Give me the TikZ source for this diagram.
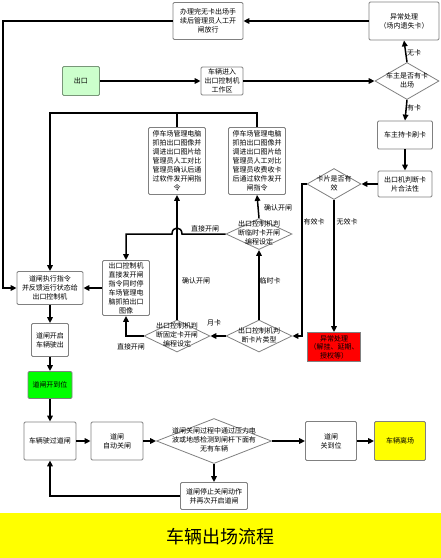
\documentclass[tikz,border=0pt]{standalone}
\usepackage{fontspec}
\setmainfont{Noto Sans CJK SC}
\usetikzlibrary{arrows.meta,shapes.geometric}
\definecolor{boxgray}{RGB}{128,128,128}
\definecolor{exitg}{RGB}{204,255,204}
\definecolor{exitb}{RGB}{120,150,120}
\definecolor{brightg}{RGB}{0,255,0}
\definecolor{yel}{RGB}{255,255,0}
\definecolor{redfill}{RGB}{255,0,0}
\newcommand\dt[1]{\raisebox{-0.25em}[0pt][0pt]{\makebox[0pt]{\begin{tabular}{@{}c@{}}#1\end{tabular}}}}
\tikzset{
  box/.style={rectangle, draw=boxgray, line width=0.8pt, rounded corners=1.2pt, fill=white,
    inner sep=0pt, align=center, font=\fontsize{7}{9}\selectfont},
  dia/.style={diamond, draw=boxgray, line width=0.8pt, fill=white, inner sep=0pt,
    font=\fontsize{7}{9}\selectfont},
  conn/.style={line width=1.5pt, black},
  arr/.style={conn, -{Triangle[length=6pt,width=5.5pt]}},
  lbl/.style={inner sep=0pt, font=\fontsize{7}{9}\selectfont}
}
\begin{document}
\begin{tikzpicture}[x=1pt,y=-1pt]
\useasboundingbox (0,0) rectangle (441,558);
% banner
\node[fill=yel, minimum width=441pt, minimum height=45pt, inner sep=0pt, anchor=north west] (banner) at (0,513) {};
\node[font=\fontsize{18}{20}\selectfont, inner sep=0pt] (title) at (220,537) {车辆出场流程};
% nodes
\node[box, minimum width=70pt, minimum height=37pt] (top) at (208,21) {办理完无卡出场手\\续后管理员人工开\\闸放行};
\node[box, minimum width=70pt, minimum height=38pt] (lost) at (404,21) {异常处理\\（场内遗失卡）};
\node[box, fill=exitg, draw=exitb, minimum width=37pt, minimum height=29pt] (exit) at (81,81) {出口};
\node[box, minimum width=42pt, minimum height=28pt] (enter) at (222,81) {车辆进入\\出口控制机\\工作区};
\node[dia, minimum width=64pt, minimum height=37pt] (hascard) at (407,81) {\dt{车主是否有卡\\出场}};
\node[box, minimum width=55pt, minimum height=28pt] (swipe) at (405,135) {车主持卡刷卡};
\node[box, minimum width=54pt, minimum height=26pt] (judge) at (405,184) {出口机判断卡\\片合法性};
\node[dia, minimum width=54pt, minimum height=31pt] (valid) at (334,184) {\dt{卡片是否有\\效}};
\node[box, fill=redfill, rounded corners=0pt, minimum width=53pt, minimum height=29pt, font=\fontsize{7}{8.5}\selectfont] (bad) at (334,347) {异常处理\\（解挂、延期、\\授权等）};
\node[dia, minimum width=66pt, minimum height=32pt] (type) at (259,336) {\dt{出口控制机判\\断卡片类型}};
\node[dia, minimum width=66pt, minimum height=31pt] (tmp) at (259,234) {\dt{出口控制机判\\断临时卡开闸\\编程设定}};
\node[box, minimum width=57pt, minimum height=67pt] (pcR) at (257,161) {停车场管理电脑\\抓拍出口图像并\\调进出口图片给\\管理员人工对比\\管理员收费收卡\\后通过软件发开\\闸指令};
\node[box, minimum width=57pt, minimum height=67pt] (pcL) at (177,161) {停车场管理电脑\\抓拍出口图像并\\调进出口图片给\\管理员人工对比\\管理员确认后通\\过软件发开闸指\\令};
\node[dia, minimum width=66pt, minimum height=32pt] (fix) at (177,336) {\dt{出口控制机判\\断固定卡开闸\\编程设定}};
\node[box, minimum width=47pt, minimum height=55pt] (direct) at (126,288) {出口控制机\\直接发开闸\\指令同时停\\车场管理电\\脑抓拍出口\\图像};
\node[box, minimum width=66pt, minimum height=33pt] (exec) at (50,288) {道闸执行指令\\并反馈运行状态给\\出口控制机};
\node[box, minimum width=37pt, minimum height=33pt] (open) at (50,340) {道闸开启\\车辆驶出};
\node[box, fill=brightg, minimum width=44pt, minimum height=27pt] (opened) at (50,385) {道闸开到位};
\node[box, minimum width=52pt, minimum height=38pt] (pass) at (50,441) {车辆驶过道闸};
\node[box, minimum width=52pt, minimum height=38pt] (auto) at (117,441) {道闸\\自动关闸};
\node[dia, minimum width=115pt, minimum height=45pt] (detect) at (214,441) {\dt{道闸关闸过程中通过压力电\\波或地感检测到闸杆下面有\\无有车辆}};
\node[box, minimum width=51pt, minimum height=39pt] (closed) at (331,441) {道闸\\关到位};
\node[box, fill=yel, minimum width=51pt, minimum height=39pt] (leave) at (400,441) {车辆离场};
\node[box, minimum width=67pt, minimum height=27pt] (reopen) at (214,496) {道闸停止关闸动作\\并再次开启道闸};
% helper coordinates
\coordinate (leftrail) at (3,0);
\coordinate (topbus) at (50,113);
\coordinate (validrail) at (302,0);
\coordinate (hopR) at (182,234);
\coordinate (hopL) at (172,234);
% connectors
\draw[arr] (lost.west) -- (top.east);
\draw[arr] (top.west) -- (top.west -| leftrail) -- (leftrail |- exec.west) -- (exec.west);
\draw[arr] (exit.east) -- (enter.west);
\draw[arr] (enter.east) -- (hascard.west);
\draw[arr] (hascard.north) -- (lost.south);
\draw[arr] (hascard.south) -- (swipe.north);
\draw[arr] (swipe.south) -- (judge.north);
\draw[arr] (judge.west) -- (valid.east);
\draw[arr] (valid.west) -- (valid.west -| validrail) -- (validrail |- type.east) -- (type.east);
\draw[arr] (valid.south) -- (bad.north);
\draw[arr] (type.north) -- (tmp.south);
\draw[arr] (tmp.north) -- (pcR.south);
\draw[arr] (tmp.west) -- (hopR) .. controls (182,226) and (172,226) .. (hopL) -- (direct.north |- tmp.west) -- (direct.north);
\draw[arr] (type.west) -- (fix.east);
\draw[arr] (fix.north) -- (pcL.south);
\draw[arr] (fix.west) -- (fix.west -| direct.south) -- (direct.south);
\draw[arr] (direct.west) -- (exec.east);
\draw[conn] (pcL.north) -- (pcL.north |- topbus);
\draw[arr] (pcR.north) |- (topbus) -- (exec.north);
\draw[arr] (exec.south) -- (open.north);
\draw[arr] (open.south) -- (opened.north);
\draw[arr] (opened.south) -- (pass.north);
\draw[arr] (pass.east) -- (auto.west);
\draw[arr] (auto.east) -- (detect.west);
\draw[arr] (detect.east) -- (closed.west);
\draw[arr] (closed.east) -- (leave.west);
\draw[arr] (detect.south) -- (reopen.north);
\draw[arr] (reopen.west) -| (pass.south);
% labels
\node[lbl] (l1) at (414,53) {无卡};
\node[lbl] (l2) at (414,108) {有卡};
\node[lbl] (l3) at (314,222) {有效卡};
\node[lbl] (l4) at (347,222) {无效卡};
\node[lbl] (l5) at (270,281) {临时卡};
\node[lbl] (l6) at (278,208) {确认开闸};
\node[lbl] (l7) at (205,229) {直接开闸};
\node[lbl] (l8) at (214,323) {月卡};
\node[lbl] (l9) at (196,281) {确认开闸};
\node[lbl] (l10) at (131,347) {直接开闸};
\end{tikzpicture}
\end{document}
